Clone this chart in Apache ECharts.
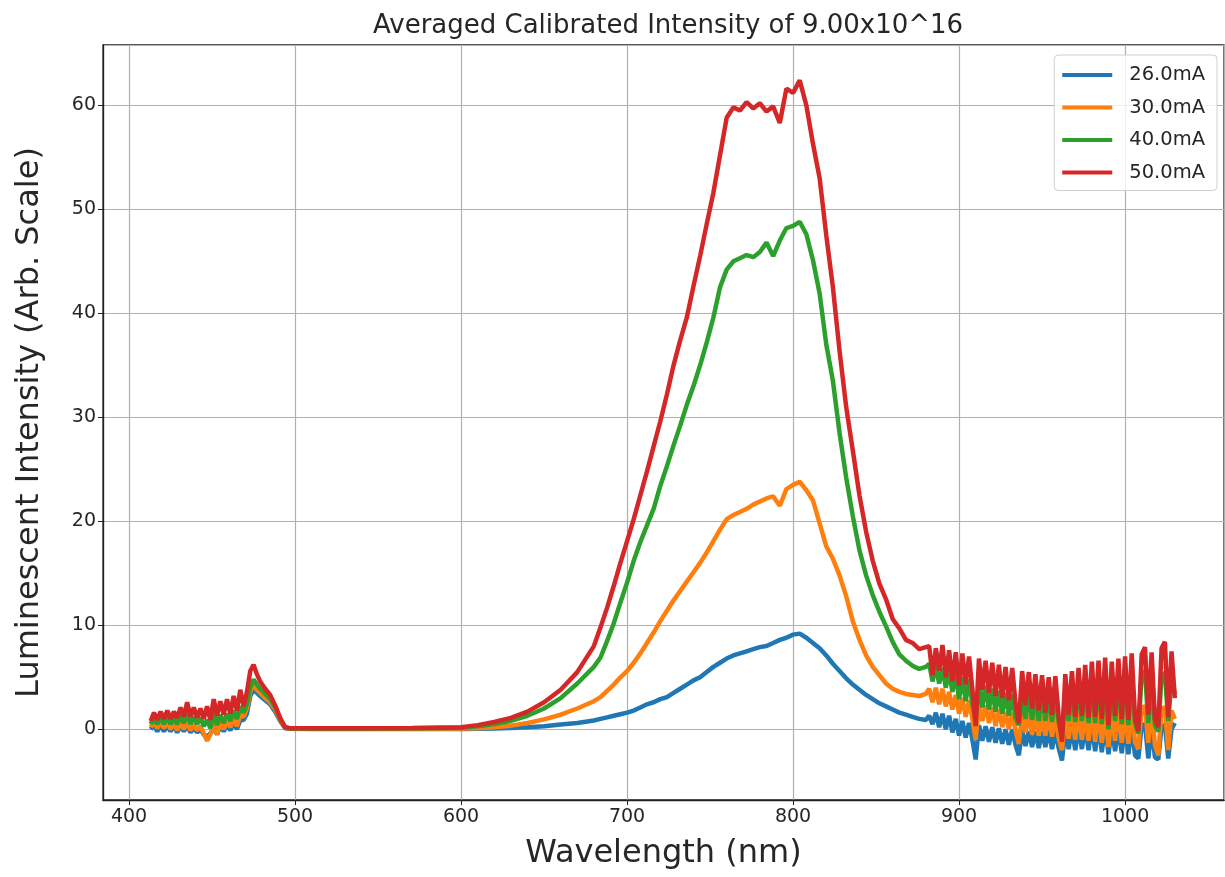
<!DOCTYPE html>
<html>
<head>
<meta charset="utf-8">
<script src="https://cdn.jsdelivr.net/npm/echarts@6/dist/echarts.min.js"></script>
<style>
html, body { margin: 0; padding: 0; background: #fff; }
#chart { width: 1225px; height: 877px; }
</style>
</head>
<body>
<div id="chart"></div>
<script>
// wavelength samples (nm), shared by all four curves
const wavelength = [
	413,415,417,419,421,423,425,427,429,431,433,435,437,439,441,443,445,447,449,451,
	453,455,457,459,461,463,465,467,469,471,
	473,475,477,479,482,485,488,491,494,497,
	510,540,570,600,
	610,620,630,640,650,660,670,680,
	684,688,692,696,700,704,708,712,716,720,724,728,732,736,740,744,748,752,756,760,
	764,768,772,776,780,784,788,792,796,800,804,808,812,816,820,824,828,832,836,840,844,848,852,
	856,860,864,868,872,876,880,
	882,884,886,888,890,892,894,896,898,900,902,904,906,908,910,912,914,916,918,920,
	922,924,926,928,930,932,934,936,938,940,942,944,946,948,950,952,954,956,958,960,
	962,964,966,968,970,972,974,976,978,980,982,984,986,988,990,992,994,996,998,1000,
	1002,1004,1006,1008,1010,1012,1014,1016,1018,1020,1022,1024,1026,1028,1030
];

const seriesNames = ['26.0mA', '30.0mA', '40.0mA', '50.0mA'];
const colors = ['#1f77b4', '#ff7f0e', '#2ca02c', '#d62728'];

const i26 = [
	0.0,0.4,-0.2,0.4,-0.2,0.3,-0.2,0.3,-0.3,0.3,-0.2,0.3,-0.3,0.1,-0.3,0.0,-0.5,-0.7,-0.4,0.2,
	-0.5,0.3,-0.2,0.4,-0.1,0.6,0.0,0.9,0.9,1.5,
	3.2,3.8,3.5,3.2,2.8,2.4,1.7,0.8,0.1,0.04,
	0.03,0.03,0.03,0.03,
	0.05,0.08,0.12,0.2,0.3,0.45,0.6,0.85,
	1.0,1.15,1.3,1.45,1.6,1.8,2.1,2.4,2.6,2.9,3.1,3.5,3.9,4.3,4.7,5.0,5.5,6.0,6.4,6.8,
	7.1,7.3,7.5,7.7,7.9,8.0,8.3,8.6,8.8,9.1,9.2,8.8,8.3,7.8,7.1,6.3,5.6,4.9,4.3,3.8,3.3,2.9,2.5,
	2.2,1.9,1.6,1.4,1.2,1.0,0.9,
	1.3,0.5,1.6,0.2,1.5,0.0,1.3,-0.3,1.0,-0.6,0.8,-0.8,0.6,-1.0,-2.9,0.4,-1.1,0.3,-1.2,0.2,
	-1.3,0.1,-1.4,0.0,-1.5,0.0,-1.5,-2.5,-0.1,-1.6,-0.2,-1.7,-0.2,-1.8,-0.2,-1.7,-0.1,-1.9,-0.2,-1.8,
	-3.0,0.0,-1.9,0.1,-2.0,0.2,-1.9,0.3,-2.0,0.4,-2.1,0.5,-2.2,0.5,-2.4,0.2,-2.1,0.3,-2.3,0.4,
	-2.4,0.3,-2.5,-2.8,0.4,0.5,-2.8,0.2,-2.7,-2.9,0.3,0.4,-2.8,0.0,0.6
];

const i30 = [
	0.2,0.7,0.1,0.7,0.1,0.7,0.0,0.6,-0.1,0.7,0.0,0.7,-0.1,0.5,-0.1,0.3,-0.4,-1.1,-0.5,0.6,
	-0.5,0.7,0.0,0.8,0.2,1.1,0.3,1.4,1.2,2.0,
	3.6,4.3,3.8,3.5,3.0,2.6,1.9,0.9,0.15,0.05,
	0.05,0.05,0.06,0.08,
	0.1,0.2,0.35,0.6,0.95,1.4,2.0,2.7,
	3.1,3.7,4.3,5.0,5.6,6.4,7.3,8.3,9.3,10.4,11.4,12.4,13.3,14.2,15.1,16.0,17.0,18.1,19.2,20.2,
	20.6,20.9,21.2,21.6,21.9,22.2,22.4,21.5,23.1,23.5,23.8,23.0,22.0,19.8,17.6,16.4,14.8,12.8,10.4,8.6,7.1,6.0,5.2,
	4.4,3.9,3.6,3.4,3.3,3.2,3.4,
	3.9,2.6,4.0,2.4,3.9,2.2,3.6,1.9,3.3,1.5,3.0,1.2,2.8,1.0,-1.0,2.5,0.8,2.3,0.6,2.1,
	0.3,1.9,0.2,1.7,0.0,1.6,-0.1,-1.4,1.5,-0.3,1.4,-0.5,1.4,-0.6,1.3,-0.6,1.4,-0.7,1.4,-0.8,
	-2.0,1.5,-0.9,1.6,-1.0,1.7,-1.0,1.8,-1.1,1.9,-1.2,2.0,-1.3,2.0,-1.7,1.7,-1.1,1.9,-1.3,2.0,
	-1.4,2.0,-1.2,-1.9,2.1,2.2,-1.3,1.9,-1.5,-2.5,2.0,2.1,-2.0,1.8,1.0
];

const i40 = [
	0.5,1.1,0.5,1.2,0.5,1.2,0.5,1.1,0.5,1.3,0.6,1.5,0.5,1.2,0.5,1.1,0.3,0.9,0.1,1.6,
	0.4,1.4,0.6,1.5,0.8,1.8,1.0,2.2,1.6,2.4,
	4.0,4.8,4.3,3.9,3.4,2.9,2.1,1.0,0.2,0.08,
	0.08,0.08,0.1,0.15,
	0.3,0.5,0.8,1.3,2.0,3.0,4.4,6.0,
	6.9,8.5,10.2,12.2,14.1,16.2,18.0,19.6,21.2,23.4,25.3,27.3,29.2,31.2,33.0,35.0,37.2,39.6,42.5,44.2,
	45.0,45.3,45.6,45.4,45.9,46.8,45.5,47.0,48.2,48.4,48.8,47.6,45.1,41.9,37.0,33.5,28.5,24.2,20.5,17.2,14.8,12.9,11.3,
	9.9,8.4,7.2,6.6,6.1,5.8,6.0,
	6.3,4.6,6.1,4.4,5.9,4.0,5.6,3.6,5.3,2.9,5.0,2.7,4.8,2.4,1.0,4.4,2.1,4.2,1.9,3.9,
	1.7,3.7,1.5,3.5,1.3,3.4,1.1,0.4,3.2,1.0,3.1,0.9,3.0,0.8,3.1,0.8,3.2,0.7,3.4,0.7,
	-0.8,3.7,0.8,4.0,0.7,4.3,0.8,4.6,0.6,4.8,0.6,5.0,0.5,5.2,0.0,4.8,0.8,5.0,0.5,5.1,
	0.4,5.2,0.6,-0.4,5.4,5.6,0.6,5.0,0.4,-0.2,5.2,5.4,0.8,4.8,3.4
];

const i50 = [
	0.8,1.6,0.9,1.7,1.0,1.8,1.0,1.7,1.1,2.1,1.2,2.6,1.2,2.1,1.1,2.0,1.0,2.2,0.9,2.9,
	1.3,2.7,1.4,2.9,1.5,3.2,1.8,3.8,2.2,3.6,
	5.6,6.2,5.3,4.6,3.9,3.3,2.3,1.1,0.2,0.1,
	0.1,0.1,0.12,0.2,
	0.4,0.7,1.1,1.7,2.6,3.8,5.5,8.0,
	9.8,11.7,13.8,16.0,18.1,20.2,22.5,24.8,27.2,29.6,32.2,35.0,37.4,39.6,42.6,45.5,48.6,51.6,55.2,58.8,
	59.8,59.5,60.3,59.7,60.2,59.4,59.9,58.3,61.6,61.2,62.4,60.0,56.3,53.0,47.5,42.5,36.4,31.0,26.8,22.5,19.0,16.2,14.0,
	12.5,10.6,9.7,8.6,8.3,7.7,7.9,
	8.0,5.2,7.8,5.6,8.1,5.0,7.6,4.6,7.4,4.2,7.3,4.3,7.0,3.9,0.3,6.8,3.8,6.6,3.5,6.4,
	3.2,6.2,3.0,6.0,2.8,5.9,2.6,0.6,5.6,2.3,5.5,2.0,5.3,1.8,5.2,1.6,5.0,1.4,5.1,1.3,
	-1.2,5.3,1.4,5.6,1.2,5.9,1.3,6.2,1.1,6.5,1.2,6.6,1.0,6.9,0.4,6.5,1.3,6.8,1.0,7.0,
	0.9,7.3,1.2,-0.2,7.2,7.9,1.4,7.4,1.0,0.2,7.8,8.4,1.2,7.5,3.0
];

const font = 'DejaVu Sans';
const ink = '#262626';

const chart = echarts.init(document.getElementById('chart'), null, {renderer: 'canvas'});

const series = [i26, i30, i40, i50].map((vals, k) => ({
	name: seriesNames[k],
	type: 'line',
	showSymbol: false,
	animation: false,
	color: colors[k],
	lineStyle: {width: 4.5, color: colors[k]},
	data: vals.map((v, i) => [wavelength[i], v]),
}));

chart.setOption({
	backgroundColor: '#fff',
	animation: false,
	textStyle: {fontFamily: font},
	title: {
		text: 'Averaged Calibrated Intensity of 9.00x10^16',
		left: 368,
		top: 8,
		textStyle: {fontFamily: font, fontSize: 26, fontWeight: 'normal', color: ink},
	},
	grid: {
		left: 103,
		right: 1,
		top: 45,
		bottom: 77,
		show: true,
		borderColor: '#222',
		borderWidth: 1.3,
	},
	legend: {
		right: 8,
		top: 55,
		orient: 'vertical',
		icon: 'rect',
		itemWidth: 50,
		itemHeight: 4,
		itemGap: 12.5,
		padding: [10, 12, 8, 8],
		backgroundColor: 'rgba(255,255,255,0.8)',
		borderColor: '#d0d0d0',
		borderWidth: 1,
		borderRadius: 4,
		textStyle: {fontFamily: font, fontSize: 19.5, color: ink, padding: [0, 0, 0, 12]},
		data: seriesNames,
	},
	xAxis: {
		type: 'value',
		min: 384.3,
		max: 1059.6,
		splitNumber: 6,
		name: 'Wavelength (nm)',
		nameLocation: 'middle',
		nameGap: 38,
		nameTextStyle: {fontFamily: font, fontSize: 32, color: ink},
		axisLine: {show: true, onZero: false, lineStyle: {color: '#222', width: 1.3}},
		axisTick: {show: true, length: 5, lineStyle: {color: '#222'}},
		axisLabel: {
			fontFamily: font, fontSize: 19, color: ink, margin: 8,
			showMinLabel: false, showMaxLabel: false,
			formatter: v => String(v),
		},
		splitLine: {show: true, lineStyle: {color: '#b0b0b0', width: 1.2}},
	},
	yAxis: {
		type: 'value',
		min: -6.8,
		max: 65.8,
		splitNumber: 7,
		name: 'Luminescent Intensity (Arb. Scale)',
		nameLocation: 'middle',
		nameGap: 57,
		nameRotate: 90,
		nameTextStyle: {fontFamily: font, fontSize: 32, color: ink},
		axisLine: {show: true, onZero: false, lineStyle: {color: '#222', width: 1.3}},
		axisTick: {show: true, length: 5, lineStyle: {color: '#222'}},
		axisLabel: {
			fontFamily: font, fontSize: 19, color: ink, margin: 7,
			showMinLabel: false, showMaxLabel: false,
			formatter: v => String(v),
		},
		splitLine: {show: true, lineStyle: {color: '#b0b0b0', width: 1.2}},
	},
	series: series,
});
</script>
</body>
</html>
